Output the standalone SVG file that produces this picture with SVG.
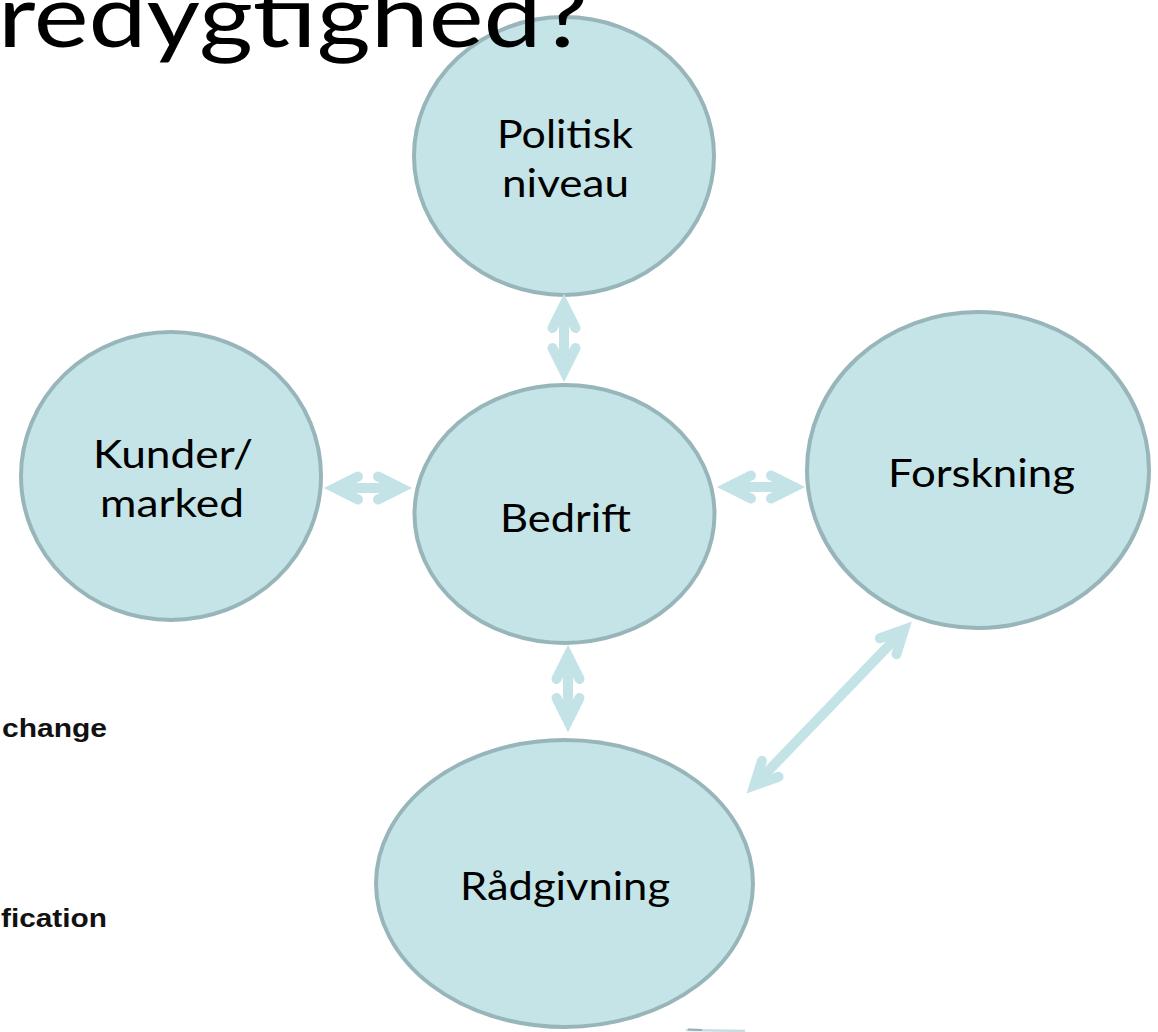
<svg xmlns="http://www.w3.org/2000/svg" width="1158" height="1032" viewBox="0 0 1158 1032">
  <style>
    .node { fill: #c5e4e8; stroke: #98b6ba; stroke-width: 4; }
    .label { font-family: Lato, "Open Sans", sans-serif; font-size: 39px; fill: #000; text-anchor: middle; }
    .link { fill: none; stroke: #c4e3e7; stroke-width: 10; stroke-linecap: butt; marker-start: url(#chev); marker-end: url(#chev); }
    .side { font-family: "Liberation Sans", Arial, sans-serif; font-weight: bold; font-size: 25px; fill: #111; }
  </style>
  <defs>
    <!-- open chevron head, apex at the path end -->
    <marker id="chev" markerUnits="userSpaceOnUse" orient="auto-start-reverse" refX="0" refY="0" markerWidth="40" markerHeight="40" viewBox="-30 -20 40 40" overflow="visible">
      <path d="M-23,-11.5 L0,0 L-23,11.5" fill="none" stroke="#c4e3e7" stroke-width="10" stroke-linecap="round" stroke-linejoin="miter"/>
    </marker>
  </defs>

  <rect width="1158" height="1032" fill="#ffffff"/>

  <!-- nodes -->
  <g id="politisk">
    <ellipse class="node" cx="564" cy="156" rx="150" ry="139"/>
    <text class="label"><tspan x="565" y="148" textLength="136" lengthAdjust="spacingAndGlyphs">Politisk</tspan><tspan x="565.5" y="197" textLength="127" lengthAdjust="spacingAndGlyphs">niveau</tspan></text>
  </g>
  <g id="kunder">
    <ellipse class="node" cx="171" cy="476" rx="150" ry="144"/>
    <text class="label"><tspan x="173" y="468" textLength="160" lengthAdjust="spacingAndGlyphs">Kunder/</tspan><tspan x="172" y="517" textLength="144" lengthAdjust="spacingAndGlyphs">marked</tspan></text>
  </g>
  <g id="bedrift">
    <ellipse class="node" cx="564.5" cy="514" rx="150" ry="129"/>
    <text class="label" x="565.5" y="532" textLength="131" lengthAdjust="spacingAndGlyphs">Bedrift</text>
  </g>
  <g id="forskning">
    <ellipse class="node" cx="978" cy="470" rx="171" ry="158"/>
    <text class="label" x="981.5" y="487" textLength="187" lengthAdjust="spacingAndGlyphs">Forskning</text>
  </g>
  <g id="raadgivning">
    <ellipse class="node" cx="564.5" cy="883.5" rx="188.5" ry="143.5"/>
    <text class="label" x="565" y="900" textLength="210" lengthAdjust="spacingAndGlyphs">Rådgivning</text>
  </g>

  <!-- connectors -->
  <g id="connectors">
    <line class="link" x1="564" y1="305" x2="564" y2="371"/>
    <line class="link" x1="568" y1="656" x2="568" y2="721"/>
    <line class="link" x1="335" y1="488" x2="401" y2="488"/>
    <line class="link" x1="728" y1="487" x2="794" y2="487"/>
    <line class="link" x1="754.3" y1="785.4" x2="904.1" y2="629.6"/>
    <!-- cut-off shape at the lower edge -->
    <path d="M686,1030 L745,1031" stroke="#c9dcdf" stroke-width="2.5" fill="none"/>
    <path d="M688,1029.5 L702,1030" stroke="#8fb0b4" stroke-width="2" fill="none"/>
  </g>

  <!-- page heading, clipped at the top edge -->
  <text x="-2" y="47" font-family="Lato, 'Open Sans', sans-serif" font-size="88" fill="#000" textLength="590" lengthAdjust="spacingAndGlyphs">redygtighed?</text>

  <!-- side labels clipped at the left edge -->
  <text class="side" x="2" y="737" textLength="105" lengthAdjust="spacingAndGlyphs">change</text>
  <text class="side" x="1" y="927" textLength="106" lengthAdjust="spacingAndGlyphs">fication</text>
</svg>
